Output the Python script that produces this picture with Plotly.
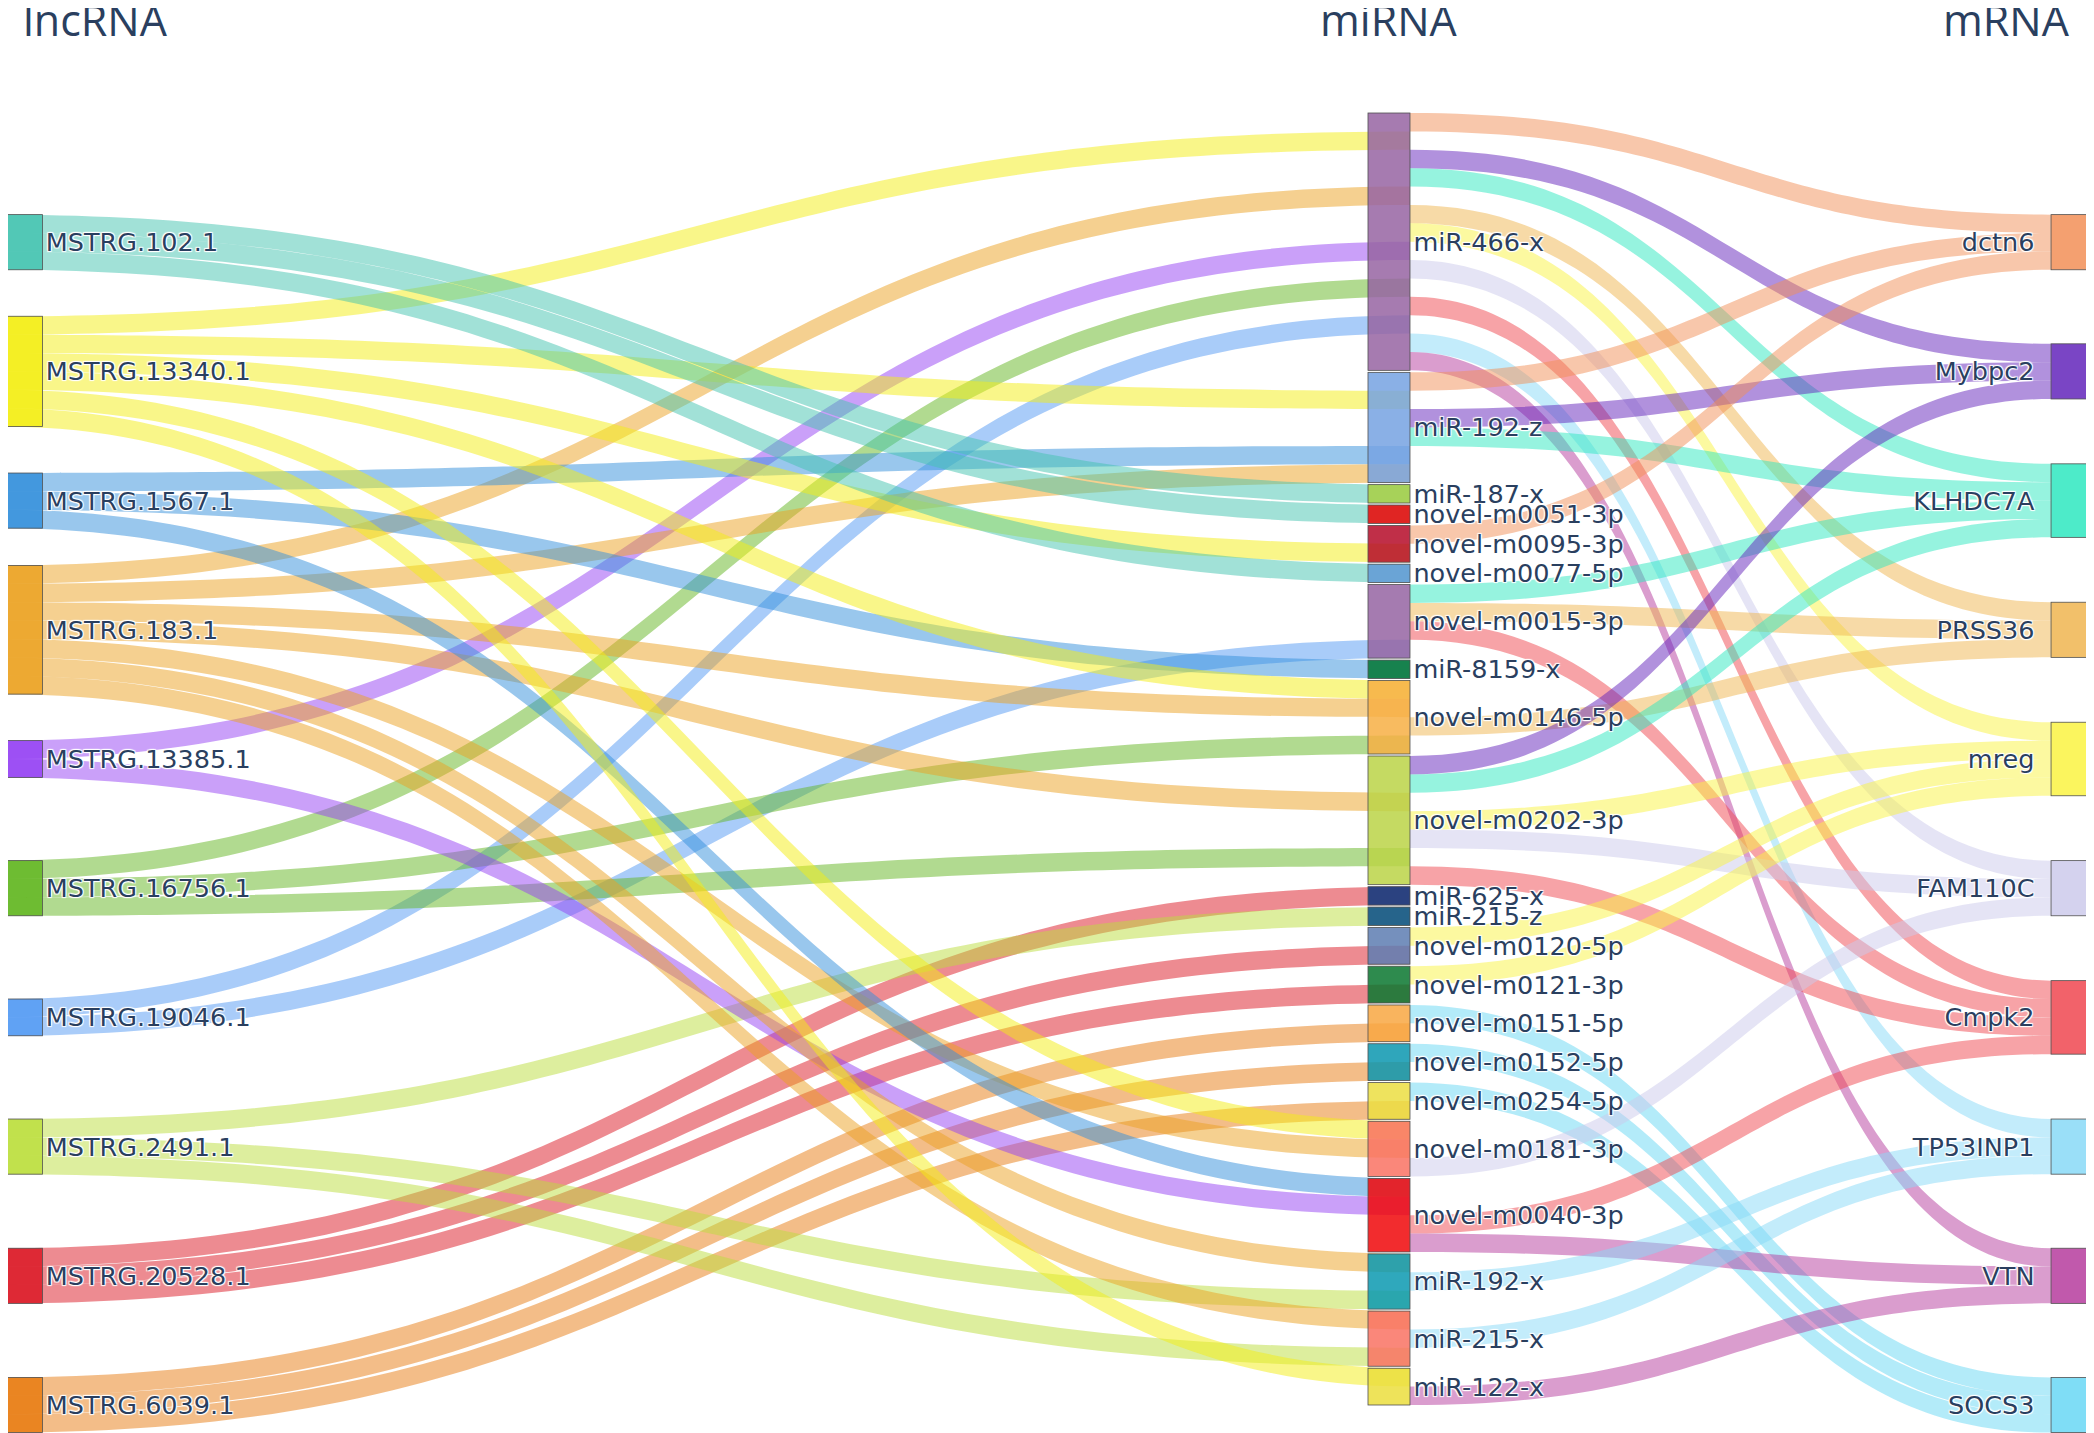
import plotly.graph_objects as go

# ---------------- data ----------------
lncrna = ["MSTRG.102.1", "MSTRG.13340.1", "MSTRG.1567.1", "MSTRG.183.1", "MSTRG.13385.1",
          "MSTRG.16756.1", "MSTRG.19046.1", "MSTRG.2491.1", "MSTRG.20528.1", "MSTRG.6039.1"]
mirna = ["miR-466-x", "miR-192-z", "miR-187-x", "novel-m0051-3p", "novel-m0095-3p",
         "novel-m0077-5p", "novel-m0015-3p", "miR-8159-x", "novel-m0146-5p", "novel-m0202-3p",
         "miR-625-x", "miR-215-z", "novel-m0120-5p", "novel-m0121-3p", "novel-m0151-5p",
         "novel-m0152-5p", "novel-m0254-5p", "novel-m0181-3p", "novel-m0040-3p", "miR-192-x",
         "miR-215-x", "miR-122-x"]
mrna = ["dctn6", "Mybpc2", "KLHDC7A", "PRSS36", "mreg", "FAM110C", "Cmpk2", "TP53INP1", "VTN", "SOCS3"]

# miRNA -> mRNA interactions
mirna_mrna = [
    ("miR-466-x", "dctn6"), ("miR-466-x", "Mybpc2"), ("miR-466-x", "KLHDC7A"), ("miR-466-x", "PRSS36"),
    ("miR-466-x", "mreg"), ("miR-466-x", "FAM110C"), ("miR-466-x", "Cmpk2"), ("miR-466-x", "TP53INP1"),
    ("miR-466-x", "VTN"),
    ("miR-192-z", "dctn6"), ("miR-192-z", "Mybpc2"), ("miR-192-z", "KLHDC7A"),
    ("novel-m0095-3p", "dctn6"),
    ("novel-m0015-3p", "KLHDC7A"), ("novel-m0015-3p", "PRSS36"), ("novel-m0015-3p", "Cmpk2"),
    ("novel-m0146-5p", "PRSS36"),
    ("novel-m0202-3p", "Mybpc2"), ("novel-m0202-3p", "KLHDC7A"), ("novel-m0202-3p", "mreg"),
    ("novel-m0202-3p", "FAM110C"), ("novel-m0202-3p", "Cmpk2"),
    ("novel-m0120-5p", "mreg"), ("novel-m0121-3p", "mreg"),
    ("novel-m0151-5p", "SOCS3"), ("novel-m0152-5p", "SOCS3"), ("novel-m0254-5p", "SOCS3"),
    ("novel-m0181-3p", "FAM110C"),
    ("novel-m0040-3p", "Cmpk2"), ("novel-m0040-3p", "VTN"),
    ("miR-192-x", "TP53INP1"), ("miR-215-x", "TP53INP1"), ("miR-122-x", "VTN"),
]
mirna_mrna_values = [1] * len(mirna_mrna)

# lncRNA -> miRNA interactions
lnc_mirna = [
    ("MSTRG.13340.1", "miR-466-x"), ("MSTRG.183.1", "miR-466-x"), ("MSTRG.13385.1", "miR-466-x"),
    ("MSTRG.16756.1", "miR-466-x"), ("MSTRG.19046.1", "miR-466-x"),
    ("MSTRG.13340.1", "miR-192-z"), ("MSTRG.1567.1", "miR-192-z"), ("MSTRG.183.1", "miR-192-z"),
    ("MSTRG.102.1", "miR-187-x"), ("MSTRG.102.1", "novel-m0051-3p"),
    ("MSTRG.13340.1", "novel-m0095-3p"), ("MSTRG.102.1", "novel-m0077-5p"),
    ("MSTRG.19046.1", "novel-m0015-3p"), ("MSTRG.1567.1", "miR-8159-x"),
    ("MSTRG.13340.1", "novel-m0146-5p"), ("MSTRG.183.1", "novel-m0146-5p"), ("MSTRG.16756.1", "novel-m0146-5p"),
    ("MSTRG.183.1", "novel-m0202-3p"), ("MSTRG.16756.1", "novel-m0202-3p"),
    ("MSTRG.20528.1", "miR-625-x"), ("MSTRG.2491.1", "miR-215-z"),
    ("MSTRG.20528.1", "novel-m0120-5p"), ("MSTRG.20528.1", "novel-m0121-3p"),
    ("MSTRG.6039.1", "novel-m0151-5p"), ("MSTRG.6039.1", "novel-m0152-5p"), ("MSTRG.6039.1", "novel-m0254-5p"),
    ("MSTRG.13340.1", "novel-m0181-3p"), ("MSTRG.183.1", "novel-m0181-3p"),
    ("MSTRG.1567.1", "novel-m0040-3p"), ("MSTRG.13385.1", "novel-m0040-3p"),
    ("MSTRG.183.1", "miR-192-x"), ("MSTRG.2491.1", "miR-192-x"),
    ("MSTRG.183.1", "miR-215-x"), ("MSTRG.2491.1", "miR-215-x"),
    ("MSTRG.13340.1", "miR-122-x"),
]
lnc_mirna_values = [1] * len(lnc_mirna)

column_titles = ["lncRNA", "miRNA", "mRNA"]

# ---------------- styles ----------------
lnc_colors = ["68,195,176", "243,237,20", "52,143,219", "235,162,34", "149,66,243",
              "99,182,34", "84,154,243", "188,222,61", "219,23,36", "231,123,17"]
mir_colors = ["151,100,162", "117,162,226", "168,207,67", "235,4,4", "181,11,40",
              "96,153,214", "149,100,162", "0,117,49", "247,175,68", "187,211,70",
              "8,53,124", "6,75,135", "93,124,177", "9,119,47", "248,167,66",
              "10,150,175", "235,222,66", "249,114,99", "240,7,9", "10,153,176",
              "249,114,99", "235,222,61"]
mrna_colors = ["242,143,87", "99,36,187", "46,231,191", "240,181,80", "250,243,66",
               "204,202,235", "240,71,80", "136,217,247", "182,60,157", "104,215,244"]

W, HF = 2094, 1433
MT, MB = 113, 28
H = HF - MT - MB
PAD = 2
SHIFT = 8  # px offset that the sankey renderer adds to node positions
X_LNC, X_MIR, X_MRNA = 0.0064, 0.6595, 0.9857
DY = SHIFT / H
TITLE_Y = 1.0785

nodes = lncrna + mirna + mrna
idx = {n: i for i, n in enumerate(nodes)}
node_rgb = lnc_colors + mir_colors + mrna_colors
node_colors = ["rgba(%s,0.85)" % c for c in node_rgb]
# left-side labels (mRNA column) sit a little further from their boxes
node_labels = lncrna + mirna + [g + "\u00a0\u2009" for g in mrna]

src, tgt, val = [], [], []
for (m, g), v in zip(mirna_mrna, mirna_mrna_values):
    src.append(idx[m]); tgt.append(idx[g]); val.append(v)
for (l, m), v in zip(lnc_mirna, lnc_mirna_values):
    src.append(idx[m]); tgt.append(idx[l]); val.append(v)
link_colors = ["rgba(%s,0.5)" % node_rgb[t] for t in tgt]

# node positions
deg = {m: 0 for m in mirna}
for s, v in zip(src, val):
    deg[nodes[s]] += v
total = sum(val)
ky = (H - (len(mirna) - 1) * PAD) / total
mir_y = []
cur = 0.0
for m in mirna:
    h = deg[m] * ky
    mir_y.append((cur + h / 2) / H - DY)
    cur += h + PAD

node_x = [X_LNC] * len(lncrna) + [X_MIR] * len(mirna) + [X_MRNA] * len(mrna)
node_y = ([(i + 1) / 10 - DY for i in range(len(lncrna))] + mir_y +
          [(i + 1) / 10 - DY for i in range(len(mrna))])

fig = go.Figure(go.Sankey(
    arrangement="fixed",
    node=dict(label=node_labels, color=node_colors, x=node_x, y=node_y,
              pad=PAD, thickness=42, line=dict(color="rgb(80,80,80)", width=0.8)),
    link=dict(source=src, target=tgt, value=val, color=link_colors),
    textfont=dict(family="DejaVu Sans", size=25.5, color="#2a3f5f"),
))

for t, x in zip(column_titles, [X_LNC, X_MIR, X_MRNA]):
    fig.add_annotation(text=t, x=x, y=TITLE_Y, xref="paper", yref="paper",
                       yanchor="middle", showarrow=False,
                       font=dict(family="Open Sans", size=43, color="#2a3f5f"))

fig.update_layout(width=W, height=HF, margin=dict(l=0, r=0, t=MT, b=MB),
                  paper_bgcolor="white", plot_bgcolor="white")
fig.write_html("out.html")
